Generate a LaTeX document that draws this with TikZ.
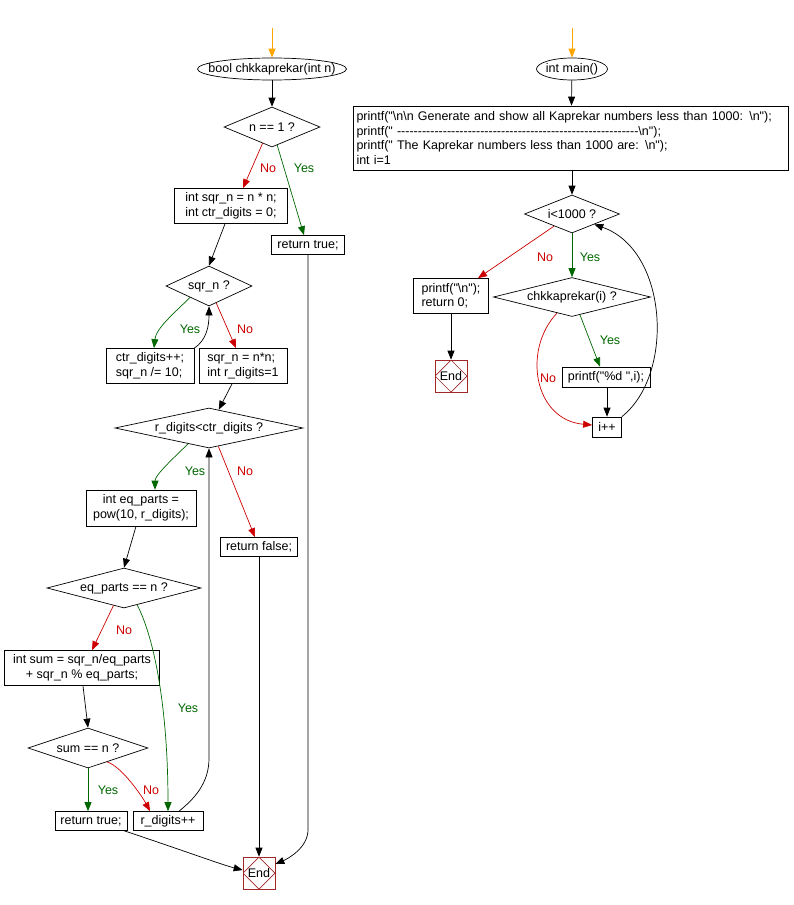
\documentclass[tikz,border=0pt]{standalone}
\usepackage{fontspec}
\setmainfont{Liberation Sans}[Ligatures=TeXOff]
\usepackage{xcolor}
\usepackage{tikz}
\usetikzlibrary{shapes,arrows.meta,calc}
\definecolor{fcred}{RGB}{204,0,0}
\definecolor{fcgreen}{RGB}{0,102,0}
\definecolor{fcorange}{RGB}{255,165,0}
\definecolor{fcend}{RGB}{160,40,40}
\newcommand{\zwtext}[1]{\makebox[0pt]{#1}}

\begin{document}
\begin{tikzpicture}[x=1pt, y=-1pt, line width=0.7pt,
    font=\fontsize{12.5}{14.5}\selectfont,
    >={Triangle[length=9pt,width=7pt]},
    box/.style={rectangle, draw, inner xsep=3pt, inner ysep=2pt, align=left},
    cbox/.style={box, align=center},
    term/.style={ellipse, draw, inner sep=0pt, minimum height=22},
    decision/.style={diamond, draw, inner sep=0pt, minimum height=40},
    endbox/.style={rectangle, draw=fcend, minimum size=32, inner sep=0pt,
      path picture={\draw[fcend] (path picture bounding box.north) -- (path picture bounding box.east)
        -- (path picture bounding box.south) -- (path picture bounding box.west) -- cycle;}},
    arrow/.style={->},
    yesarrow/.style={->, fcgreen},
    noarrow/.style={->, fcred},
    yeslbl/.style={text=fcgreen, inner sep=1pt},
    nolbl/.style={text=fcred, inner sep=1pt}]
  \useasboundingbox (0,0) rectangle (793,905);

  \coordinate (fentry) at (272,28);
  \node[term, minimum width=149] (fstart) at (272,69) {\zwtext{bool chkkaprekar(int n)}};
  \node[decision, minimum width=96] (n1) at (272,127) {\zwtext{n == 1 ?}};
  \node[box, minimum width=113, minimum height=35] (sq) at (231,206) {int sqr\_n = n * n;\\int ctr\_digits = 0;};
  \node[box, minimum width=73, minimum height=19] (rt1) at (308,245) {return true;};
  \node[decision, minimum width=86] (sqn) at (209,286) {\zwtext{sqr\_n ?}};
  \node[box, minimum width=88, minimum height=35] (cnt) at (150,366) {ctr\_digits++;\\sqr\_n /= 10;};
  \node[box, minimum width=88, minimum height=35] (init) at (243,366) {sqr\_n = n*n;\\int r\_digits=1};
  \node[decision, minimum width=188] (rd) at (209,428) {\zwtext{r\_digits<ctr\_digits ?}};
  \node[cbox, minimum width=110, minimum height=36] (eqp) at (141,508) {int eq\_parts =\\pow(10, r\_digits);};
  \node[box, minimum width=77, minimum height=19] (rf) at (259,547) {return false;};
  \node[decision, minimum width=154] (eq) at (124,588) {\zwtext{eq\_parts == n ?}};
  \node[cbox, minimum width=155, minimum height=35] (sum) at (82,668) {int sum = sqr\_n/eq\_parts\\+ sqr\_n \% eq\_parts;};
  \node[decision, minimum width=120] (sn) at (88,748) {\zwtext{sum == n ?}};
  \node[box, minimum width=72, minimum height=19] (rt2) at (91,821) {return true;};
  \node[box, minimum width=70, minimum height=19] (inc) at (168,821) {r\_digits++};
  \node[endbox] (fend) at (259,873) {End};

  \node[nolbl] (l1) at (268,168) {No};
  \node[yeslbl] (l2) at (304,168) {Yes};
  \node[yeslbl] (l3) at (190,329) {Yes};
  \node[nolbl] (l4) at (245,329) {No};
  \node[yeslbl] (l5) at (195,471) {Yes};
  \node[nolbl] (l6) at (245,471) {No};
  \node[nolbl] (l7) at (124,630) {No};
  \node[yeslbl] (l8) at (188,708) {Yes};
  \node[yeslbl] (l9) at (108,790) {Yes};
  \node[nolbl] (l10) at (151,790) {No};

  \draw[->, fcorange] (fentry) -- (fstart);
  \draw[arrow] (fstart) -- (n1);
  \draw[noarrow] (n1.-120) -- ($(sq.north)+(12,0)$);
  \draw[yesarrow] (n1.-74) -- ($(rt1.north)+(-4,0)$);
  \draw[arrow] ($(sq.south)+(-6,0)$) -- (sqn.north);
  \draw[yesarrow] (sqn.-149) .. controls +(-15,15) and +(2,-20) .. ($(cnt.north)+(4,0)$);
  \draw[arrow] (cnt.north east) .. controls +(12,-8) and +(0,20) .. (sqn.south);
  \draw[noarrow] (sqn.-67) -- ($(init.north)+(-7,0)$);
  \draw[arrow] ($(init.south)+(-11,0)$) -- (rd.62);
  \draw[yesarrow] (rd.-143) .. controls +(-12,12) and +(0,-15) .. ($(eqp.north)+(14,0)$);
  \draw[noarrow] (rd.-63) -- ($(rf.north)+(-4,0)$);
  \draw[arrow] ($(eqp.south)+(-5,0)$) -- (eq.north);
  \draw[noarrow] (eq.-121) -- ($(sum.north)+(10,0)$);
  \draw[yesarrow] (eq.-52) .. controls +(18,35) and +(0,-100) .. (inc.north);
  \draw[arrow] ($(sum.south)+(1,0)$) -- (sn.north);
  \draw[yesarrow] (sn.south) -- (sn.south |- rt2.north);
  \draw[noarrow] (sn.-36) .. controls +(15,5) and +(-8,-15) .. ($(inc.north)+(-18,0)$);
  \draw[arrow] ($(inc.north)+(11,0)$) .. controls +(15,-12) and +(0,25) .. ($(rd.south)+(0,310)$) -- (rd.south);
  \draw[arrow] ($(rt2.south east)+(-3,0)$) .. controls +(60,20) and +(-20,-5) .. ($(fend.west)+(0,-3)$);
  \draw[arrow] (rf.south) -- (fend.north);
  \draw[arrow] (rt1.south) -- ($(rt1.south)+(0,575)$) .. controls +(0,18) and +(12,-5) .. ($(fend.east)+(0,-9)$);

  \coordinate (mentry) at (572,28);
  \node[term, minimum width=71] (mstart) at (572,69) {\zwtext{int main()}};
  \node[box, text width=429, minimum height=64] (mbody) at (571,138) {printf("\textbackslash n\textbackslash n Generate and show all Kaprekar numbers less than 1000: \textbackslash n");\\printf(" ----------------------------------------------------------\textbackslash n");\\printf(" The Kaprekar numbers less than 1000 are: \textbackslash n");\\int i=1};
  \node[decision, minimum width=95, minimum height=38] (lp) at (572,214) {\zwtext{i<1000 ?}};
  \node[box, minimum width=75, minimum height=35] (mret) at (451,296) {printf("\textbackslash n");\\return 0;};
  \node[decision, minimum width=157, minimum height=39] (ck) at (572,297) {\zwtext{chkkaprekar(i) ?}};
  \node[endbox] (mend) at (451,376) {End};
  \node[box, minimum width=88, minimum height=20] (pr) at (606,377) {printf("\%d ",i);};
  \node[box, minimum width=29, minimum height=20] (ii) at (607,427) {i++};

  \node[nolbl] (l11) at (545,257) {No};
  \node[yeslbl] (l12) at (590,257) {Yes};
  \node[yeslbl] (l13) at (610,340) {Yes};
  \node[nolbl] (l14) at (548,378) {No};

  \draw[->, fcorange] (mentry) -- (mstart);
  \draw[arrow] (mstart) -- (mbody);
  \draw[arrow] (mbody.south -| lp.north) -- (lp.north);
  \draw[noarrow] (lp.-146) -- ($(mret.north)+(27,0)$);
  \draw[yesarrow] (lp.south) -- (ck.north);
  \draw[arrow] (mret.south) -- (mend.north);
  \draw[yesarrow] (ck.-66) -- ($(pr.north)+(-6,0)$);
  \draw[noarrow] (ck.-133) .. controls +(-35,37) and +(-58,-5) .. ($(ii.west)+(0,-2)$);
  \draw[arrow] (pr.south -| ii.north) -- (ii.north);
  \draw[arrow] (ii.north east) .. controls +(53,-42) and +(74,26) .. (lp.-25);
\end{tikzpicture}
\end{document}
